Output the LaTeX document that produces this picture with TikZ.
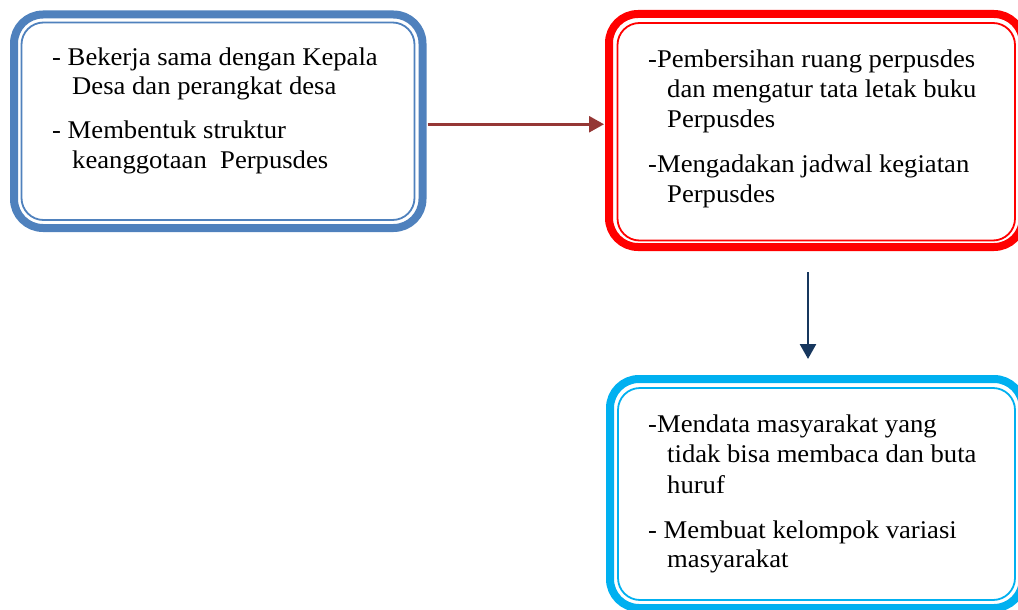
\documentclass[tikz,border=0pt]{standalone}
\usepackage{fontspec}
\setmainfont[FakeStretch=1.045]{Liberation Serif}
\usetikzlibrary{arrows.meta}
\definecolor{bblue}{HTML}{4F81BD}
\definecolor{bred}{HTML}{FF0000}
\definecolor{bcyan}{HTML}{00B0F0}
\definecolor{arrred}{HTML}{953735}
\definecolor{arrnavy}{HTML}{17375E}
\tikzset{
  outerbox/.style={draw=#1, line width=8pt, rounded corners=29pt, inner sep=0pt, fill=white},
  innerline/.style={draw=#1, line width=1.8pt, rounded corners=22pt},
  txt/.style={anchor=base west, inner sep=0pt, font=\fontsize{25.5}{29}\selectfont},
  conn/.style={line width=2.6pt, -{Triangle[length=15pt,width=16pt]}}
}
\begin{document}
\begin{tikzpicture}[x=1pt,y=-1pt]
\useasboundingbox (0,0) rectangle (1018,610);
\clip (0,0) rectangle (1018,610);
% boxes
\node[outerbox=bblue, minimum width=408.5pt, minimum height=213.5pt] (blue) at (218.25,121.25) {};
\node[outerbox=bred, minimum width=414pt, minimum height=233pt] (red) at (816,130.5) {};
\node[outerbox=bcyan, minimum width=413pt, minimum height=229pt] (cyan) at (816.5,493.5) {};
\draw[innerline=bblue] ([shift={(11.5,12)}]blue.north west) rectangle ([shift={(-12,-12)}]blue.south east);
\draw[innerline=bred] ([shift={(12.5,13)}]red.north west) rectangle ([shift={(-12,-10.5)}]red.south east);
\draw[innerline=bcyan] ([shift={(12,13)}]cyan.north west) rectangle ([shift={(-12,-12)}]cyan.south east);
% texts blue
\node[txt] (b1) at (52,66) {- Bekerja sama dengan Kepala};
\node[txt] (b2) at (72,95) {Desa dan perangkat desa};
\node[txt] (b3) at (52,139) {- Membentuk struktur};
\node[txt] (b4) at (72,168) {keanggotaan\ \ Perpusdes};
% texts red
\node[txt] (r1) at (648,68) {-Pembersihan ruang perpusdes};
\node[txt] (r2) at (667,97) {dan mengatur tata letak buku};
\node[txt] (r3) at (667,127.5) {Perpusdes};
\node[txt] (r4) at (648,172.5) {-Mengadakan jadwal kegiatan};
\node[txt] (r5) at (667,202) {Perpusdes};
% texts cyan
\node[txt] (c1) at (648,432) {-Mendata masyarakat yang};
\node[txt] (c2) at (667,462.5) {tidak bisa membaca dan buta};
\node[txt] (c3) at (667,493) {huruf};
\node[txt] (c4) at (648,538) {- Membuat kelompok variasi};
\node[txt] (c5) at (667,567) {masyarakat};
% connectors
\coordinate (a1s) at ([shift={(1,3)}]blue.east);
\coordinate (a1e) at ([shift={(-1,0)}]red.west |- a1s);
\draw[conn, draw=arrred, fill=arrred] (a1s) -- (a1e);
\coordinate (a2s) at ([shift={(-8,21)}]red.south);
\coordinate (a2e) at ([shift={(0,-16)}]cyan.north -| a2s);
\draw[conn, draw=arrnavy, fill=arrnavy] (a2s) -- (a2e);
\end{tikzpicture}
\end{document}
